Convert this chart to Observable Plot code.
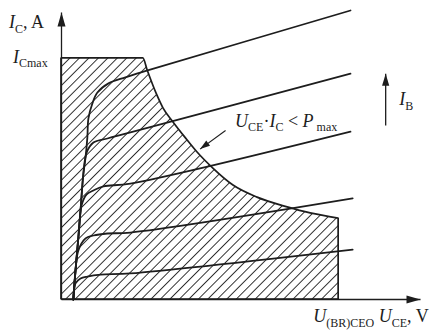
<!DOCTYPE html>
<html>
<head>
<meta charset="utf-8">
<script src="https://cdn.jsdelivr.net/npm/d3@7"></script>
<script src="https://cdn.jsdelivr.net/npm/@observablehq/plot@0.6"></script>
<style>
  body { margin: 0; background: #fff; }
  svg { display: block; }
</style>
</head>
<body>
<div id="chart"></div>
<script>
// Safe operating area of a bipolar transistor on its output characteristics.
// Units are relative: U_CE and I_C both run 0–100 along the axes.

// Upper boundary of the safe area: I_Cmax plateau, then the P_max hyperbola,
// ending at U_(BR)CEO.
const ICmax = 84;
const UBR = 77.2;
const boundaryU = [0, 22.8, 24, 26.7, 28.4, 31.2, 34.5, 37.9, 42.3, 47.9, 54.6, 63, 69.4, UBR];
const boundaryI = [ICmax, ICmax, 79.8, 71.1, 66.6, 61.7, 56.4, 51.2, 45.6, 39.7, 35.5, 32.1, 30, 28.2];

// Output curves I_C(U_CE), one per base current (highest I_B first).
const ib1U = [3.3, 3.9, 4.7, 5.3, 6.1, 6.7, 7.2, 7.5, 8.6, 10, 13.1, 17.8, 24, 80.5];
const ib1I = [0, 10.1, 21.6, 31, 43.9, 49.5, 56.4, 63.1, 68.3, 72.1, 75.3, 77.4, 79.8, 100.7];
const ib2U = [3.3, 3.9, 4.7, 5.3, 6.1, 7, 8.9, 12.8, 19.2, 80.5];
const ib2I = [0, 10.1, 21.6, 31, 43.9, 51.2, 54.7, 56.1, 58.2, 78.7];
const ib3U = [3.3, 3.9, 4.7, 5.6, 7, 8.9, 11.7, 19.2, 80.5];
const ib3I = [0, 10.1, 21.6, 32.8, 36.6, 38, 39.4, 40.4, 58.5];
const ib4U = [3.3, 3.9, 4.7, 6.7, 8.9, 12.8, 19.2, 81.1];
const ib4I = [0, 10.1, 17.1, 21.3, 22.3, 23, 23.3, 35.2];
const ib5U = [3.3, 3.9, 5.3, 7.2, 10.9, 19.2, 81.1];
const ib5I = [0, 5.6, 7.3, 8, 8.7, 9.1, 17.4];

// Arrow showing the direction of increasing I_B, and the pointer to the hyperbola.
const ibArrowU = [90.3, 90.3];
const ibArrowI = [60.6, 78.7];
const pointerU = [45.7, 38.6];
const pointerI = [58.9, 52.4];

// Text pieces: [text, kind] with kind i = italic, r = roman, s = subscript.
const yTitle = [["I", "i"], ["C", "s"], [", A", "r"]];
const yTick = [["I", "i"], ["Cmax", "s"]];
const xTitle = [["U", "i"], ["(BR)CEO", "s"], [" U", "i"], ["CE", "s"], [", V", "r"]];
const ibLabel = [["I", "i"], ["B", "s"]];
const powerLabel = [["U", "i"], ["CE", "s"], ["·", "r"], ["I", "i"], ["C", "s"], [" < ", "r"], ["P", "i"], [" max", "s"]];

const ink = "#1d1d1d";
const serif = "'Liberation Serif', 'Times New Roman', 'DejaVu Serif', serif";

const zip = (us, is) => us.map((u, k) => ({U: u, I: is[k]}));
const boundary = zip(boundaryU, boundaryI);
const curves = [[ib1U, ib1I], [ib2U, ib2I], [ib3U, ib3I], [ib4U, ib4I], [ib5U, ib5I]]
  .flatMap(([us, is], k) => zip(us, is).map(d => ({...d, curve: k})));

const axes = [
  {x1: 0, y1: 0, x2: 0, y2: 100},
  {x1: 0, y1: 0, x2: 100, y2: 0}
];

const chart = Plot.plot({
  width: 433,
  height: 331,
  marginLeft: 61,
  marginRight: 13,
  marginTop: 12,
  marginBottom: 32,
  x: {domain: [0, 100], axis: null},
  y: {domain: [0, 100], axis: null},
  style: {background: "#fff", overflow: "visible"},
  marks: [
    // hatched safe operating area with its outline
    Plot.areaY(boundary, {x: "U", y: "I", curve: "monotone-x", fill: "url(#hatch)",
      stroke: ink, strokeWidth: 1.7, strokeLinejoin: "miter"}),
    // output characteristics
    Plot.line(curves, {x: "U", y: "I", z: "curve", curve: "catmull-rom",
      stroke: ink, strokeWidth: 1.8}),
    // axes (first link group)
    Plot.link(axes, {x1: "x1", y1: "y1", x2: "x2", y2: "y2", stroke: ink, strokeWidth: 1.3}),
    // I_B direction arrow (second link group)
    Plot.link([0], {x1: () => ibArrowU[0], y1: () => ibArrowI[0], x2: () => ibArrowU[1], y2: () => ibArrowI[1],
      stroke: ink, strokeWidth: 1.3}),
    // pointer to the P_max boundary (third link group)
    Plot.link([0], {x1: () => pointerU[0], y1: () => pointerI[0], x2: () => pointerU[1], y2: () => pointerI[1],
      stroke: ink, strokeWidth: 1.1})
  ]
});

document.getElementById("chart").append(chart);

const svg = d3.select(chart);
const defs = svg.insert("defs", ":first-child");

// diagonal hatching
const hatch = defs.append("pattern")
  .attr("id", "hatch")
  .attr("patternUnits", "userSpaceOnUse")
  .attr("width", 6.7)
  .attr("height", 6.7)
  .attr("patternTransform", "rotate(45)");
hatch.append("rect").attr("width", 6.7).attr("height", 6.7).attr("fill", "#fff");
hatch.append("line")
  .attr("x1", 3.35).attr("y1", -1).attr("x2", 3.35).attr("y2", 7.7)
  .attr("stroke", "#2b2b2b").attr("stroke-width", 0.95);

// filled arrow heads
function head(id, len, half) {
  defs.append("marker")
    .attr("id", id)
    .attr("markerUnits", "userSpaceOnUse")
    .attr("viewBox", `${-len - 2} ${-half - 2} ${len + 4} ${2 * half + 4}`)
    .attr("markerWidth", len + 4)
    .attr("markerHeight", 2 * half + 4)
    .attr("refX", 0).attr("refY", 0)
    .attr("orient", "auto")
    .append("path")
    .attr("d", `M0,0L${-len},${-half}L${-len},${half}Z`)
    .attr("fill", ink);
}
head("tip", 14, 4);
head("tip-ib", 12, 3.6);
head("tip-small", 10, 3.2);
const linkGroups = svg.selectAll('g[aria-label="link"]').nodes();
const tips = ["url(#tip)", "url(#tip-ib)", "url(#tip-small)"];
linkGroups.forEach((g, k) => d3.select(g).selectAll("path").attr("marker-end", tips[k]));

// labels with subscripts, placed through the plot's scales
const sx = chart.scale("x"), sy = chart.scale("y");
function label(px, py, parts, size = 18, sub = 12) {
  const t = svg.append("text")
    .attr("x", px).attr("y", py)
    .attr("text-anchor", "start")
    .attr("font-family", serif)
    .attr("font-size", size)
    .attr("fill", ink)
    .style("white-space", "pre");
  let low = false;
  for (const [s, kind] of parts) {
    const span = t.append("tspan").text(s);
    if (kind === "s") {
      span.attr("font-size", sub);
      if (!low) span.attr("dy", 4.5);
      low = true;
    } else {
      if (low) span.attr("dy", -4.5);
      low = false;
      span.attr("font-style", kind === "i" ? "italic" : "normal");
    }
  }
  return t;
}
label(sx.apply(0) - 52, sy.apply(100) + 16, yTitle);
label(sx.apply(0) - 48, sy.apply(ICmax) + 5, yTick);
label(sx.apply(UBR) - 25, sy.apply(0) + 23, xTitle);
label(sx.apply(ibArrowU[0]) + 14, sy.apply(ibArrowI[0]) - 20, ibLabel);
label(sx.apply(pointerU[0]) + 10, sy.apply(pointerI[0]) - 3, powerLabel);
</script>
</body>
</html>
